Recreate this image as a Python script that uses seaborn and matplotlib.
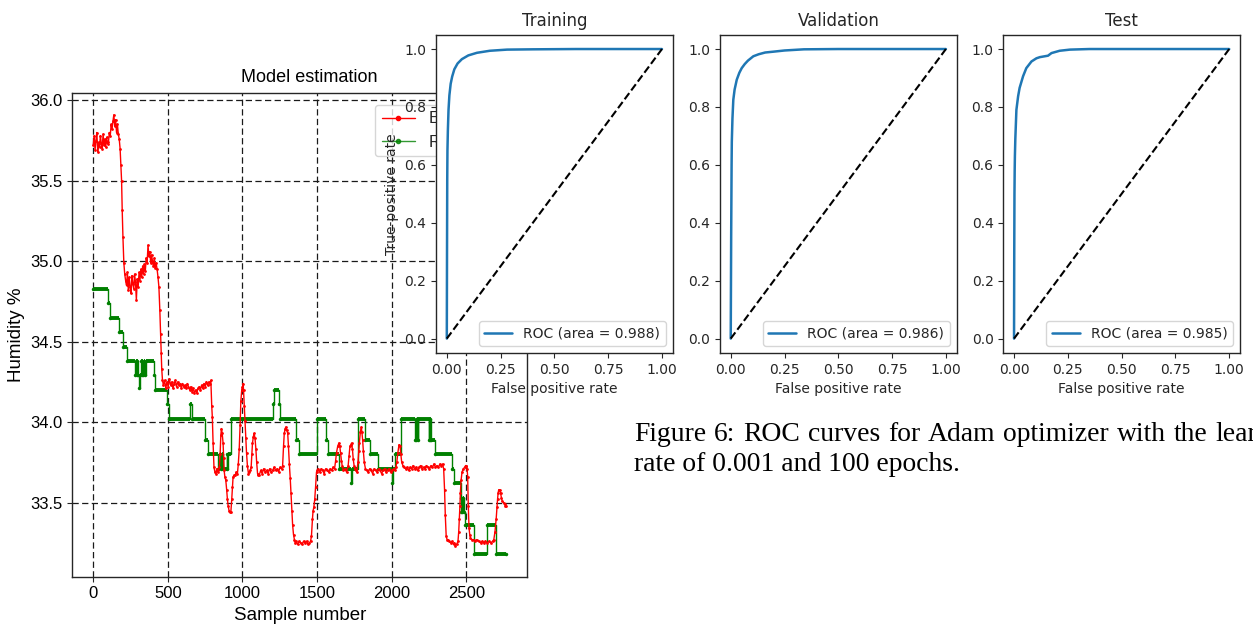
import numpy as np
import pandas as pd
import matplotlib
matplotlib.use("Agg")
import matplotlib.pyplot as plt
from matplotlib.lines import Line2D
import seaborn as sns

# ---------------- data: model estimation (humidity) ----------------
red_x_a = [0, 6, 12, 18, 24, 30, 36, 42, 48, 54,
           60, 66, 72, 78, 84, 90, 96, 102, 108, 114,
           120, 126, 132, 138, 144, 150, 156, 162, 168, 174,
           180, 185, 190, 194, 199, 205, 211, 217, 223, 229,
           235, 241, 247, 253, 259, 265, 271, 277, 283, 289,
           295, 301, 307, 313, 319, 325, 331, 337, 343, 349,
           355, 361, 367, 373, 379, 385, 391, 397, 403, 409,
           415, 421, 428, 434, 440, 446, 451, 455, 459, 464]
red_y_a = [35.72, 35.78, 35.69, 35.75, 35.80, 35.68, 35.74, 35.71, 35.78, 35.73,
           35.70, 35.79, 35.72, 35.76, 35.71, 35.77, 35.73, 35.74, 35.80, 35.78,
           35.85, 35.82, 35.87, 35.91, 35.84, 35.88, 35.80, 35.85, 35.79, 35.76,
           35.70, 35.60, 35.50, 35.32, 35.15, 34.99, 34.92, 34.88, 34.85, 34.93,
           34.82, 34.90, 34.84, 34.80, 34.91, 34.86, 34.83, 34.92, 34.87, 34.76,
           34.89, 34.84, 34.93, 34.88, 34.95, 34.90, 34.97, 34.92, 34.98, 34.94,
           35.02, 34.99, 35.10, 35.03, 35.06, 34.99, 35.04, 35.00, 34.97, 35.02,
           34.96, 34.99, 34.95, 34.90, 34.84, 34.70, 34.55, 34.43, 34.33, 34.26]

red_x_b = [470, 478, 486, 494, 502, 510, 518, 526, 534, 542,
           550, 558, 566, 574, 582, 590, 598, 606, 614, 622,
           630, 638, 646, 654, 662, 670, 678, 686, 694, 702,
           710, 718, 726, 734, 742, 750, 758, 766, 774, 782,
           788, 794, 798, 803, 809, 815, 821, 827, 833, 839,
           845, 850, 855, 859, 864, 870, 874, 877, 882, 888,
           894, 899, 904, 910, 916, 922, 928, 933, 937, 944,
           951, 958, 966, 972, 978, 984, 989, 995, 1000, 1004,
           1007, 1012, 1016, 1022, 1027, 1033, 1040, 1046, 1052, 1058,
           1063, 1067, 1073, 1078, 1084, 1090, 1095, 1101, 1107, 1112]
red_y_b = [34.23, 34.26, 34.21, 34.25, 34.22, 34.27, 34.23, 34.25, 34.21, 34.24,
           34.26, 34.22, 34.25, 34.23, 34.24, 34.21, 34.24, 34.22, 34.23, 34.21,
           34.24, 34.22, 34.20, 34.22, 34.19, 34.21, 34.18, 34.20, 34.18, 34.21,
           34.22, 34.20, 34.23, 34.21, 34.24, 34.22, 34.25, 34.23, 34.25, 34.24,
           34.26, 34.10, 34.03, 33.87, 33.72, 33.69, 33.68, 33.71, 33.69, 33.70,
           33.72, 33.80, 33.92, 33.96, 33.93, 33.87, 33.78, 33.70, 33.66, 33.64,
           33.58, 33.52, 33.48, 33.45, 33.44, 33.44, 33.52, 33.60, 33.66, 33.67,
           33.67, 33.69, 33.68, 33.74, 33.83, 33.98, 34.13, 34.20, 34.22, 34.24,
           34.20, 34.10, 34.01, 33.90, 33.81, 33.73, 33.68, 33.69, 33.70, 33.72,
           33.80, 33.87, 33.91, 33.93, 33.90, 33.83, 33.75, 33.68, 33.67, 33.67]

red_x_c = [1122, 1132, 1142, 1152, 1162, 1172, 1182, 1192, 1202, 1212,
           1222, 1232, 1242, 1252, 1262, 1269, 1275, 1280, 1286, 1291,
           1297, 1303, 1308, 1314, 1320, 1325, 1331, 1336, 1342, 1348,
           1354, 1359, 1369, 1379, 1389, 1399, 1409, 1419, 1429, 1439,
           1449, 1456, 1462, 1469, 1473, 1478, 1484, 1490, 1496, 1502,
           1507, 1517, 1527, 1537, 1547, 1557, 1567, 1577, 1587, 1597,
           1607, 1617, 1624, 1630, 1638, 1646, 1652, 1657, 1663, 1668,
           1676, 1686, 1697, 1708, 1714, 1720, 1726, 1731, 1737, 1742,
           1748, 1753, 1759, 1765, 1774, 1779, 1783, 1790, 1796, 1800,
           1805, 1810, 1816, 1824, 1832]
red_y_c = [33.70, 33.68, 33.71, 33.69, 33.70, 33.68, 33.71, 33.69, 33.70, 33.72,
           33.70, 33.71, 33.69, 33.72, 33.71, 33.73, 33.85, 33.93, 33.96, 33.97,
           33.95, 33.93, 33.85, 33.74, 33.65, 33.56, 33.45, 33.36, 33.30, 33.27,
           33.25, 33.26, 33.24, 33.26, 33.25, 33.24, 33.26, 33.25, 33.26, 33.24,
           33.25, 33.26, 33.29, 33.40, 33.45, 33.47, 33.52, 33.60, 33.69, 33.70,
           33.71, 33.69, 33.71, 33.70, 33.68, 33.71, 33.70, 33.69, 33.71, 33.70,
           33.72, 33.71, 33.76, 33.81, 33.85, 33.87, 33.85, 33.81, 33.76, 33.73,
           33.70, 33.71, 33.69, 33.73, 33.79, 33.85, 33.86, 33.87, 33.83, 33.77,
           33.73, 33.71, 33.70, 33.69, 33.75, 33.82, 33.87, 33.94, 33.97, 33.94,
           33.89, 33.82, 33.75, 33.71, 33.70]

red_x_d = [1842, 1852, 1862, 1872, 1882, 1892, 1902, 1912, 1922, 1932,
           1942, 1952, 1962, 1972, 1982, 1992, 2002, 2012, 2022, 2028,
           2034, 2041, 2049, 2056, 2061, 2067, 2075, 2083, 2093, 2103,
           2113, 2123, 2133, 2143, 2153, 2163, 2173, 2183, 2193, 2203,
           2213, 2223, 2233, 2243, 2253, 2263, 2273, 2283, 2293, 2303,
           2313, 2323, 2333, 2341, 2348, 2354, 2359, 2365, 2371, 2377,
           2385, 2395, 2404, 2414, 2420, 2426, 2435, 2444, 2449, 2453,
           2457, 2460, 2465, 2471, 2480, 2489, 2495, 2500, 2505, 2509,
           2513, 2518, 2523, 2527, 2537, 2549, 2559, 2569, 2583, 2595,
           2607, 2618, 2628, 2640, 2652, 2664, 2676, 2684, 2692, 2700,
           2705, 2709, 2713, 2717, 2723, 2729, 2735, 2740, 2750, 2756,
           2762, 2766]
red_y_d = [33.69, 33.71, 33.70, 33.68, 33.71, 33.70, 33.69, 33.71, 33.70, 33.68,
           33.70, 33.71, 33.69, 33.70, 33.71, 33.69, 33.70, 33.71, 33.70, 33.72,
           33.75, 33.81, 33.86, 33.85, 33.80, 33.75, 33.73, 33.72, 33.71, 33.72,
           33.70, 33.72, 33.71, 33.73, 33.71, 33.72, 33.70, 33.72, 33.73, 33.71,
           33.72, 33.71, 33.73, 33.72, 33.71, 33.73, 33.72, 33.74, 33.72, 33.73,
           33.72, 33.74, 33.73, 33.74, 33.71, 33.58, 33.42, 33.29, 33.27, 33.27,
           33.26, 33.25, 33.26, 33.24, 33.25, 33.23, 33.24, 33.26, 33.32, 33.40,
           33.48, 33.56, 33.64, 33.69, 33.71, 33.72, 33.73, 33.73, 33.71, 33.66,
           33.48, 33.34, 33.30, 33.28, 33.27, 33.27, 33.26, 33.27, 33.26, 33.25,
           33.26, 33.25, 33.26, 33.25, 33.26, 33.25, 33.26, 33.27, 33.32, 33.40,
           33.47, 33.52, 33.56, 33.58, 33.58, 33.56, 33.53, 33.51, 33.50, 33.49,
           33.48, 33.48]

# real (reference) humidity: step change points
green_x = [0, 100, 109, 172, 199, 223, 279, 285, 290, 296,
           302, 308, 312, 318, 324, 330, 336, 342, 348, 355,
           406, 417, 496, 507, 650, 665, 750, 770, 839, 852,
           856, 865, 870, 895, 899, 906, 926, 1206, 1212, 1243,
           1249, 1359, 1381, 1500, 1558, 1574, 1648, 1729, 1733, 1776,
           1821, 1854, 1910, 2005, 2009, 2022, 2060, 2157, 2161, 2165,
           2169, 2173, 2177, 2247, 2251, 2255, 2259, 2263, 2287, 2404,
           2419, 2462, 2466, 2470, 2474, 2478, 2482, 2493, 2554, 2639,
           2700, 2766]
green_y = [34.83, 34.74, 34.65, 34.56, 34.47, 34.38, 34.29, 34.38, 34.29, 34.38,
           34.29, 34.21, 34.29, 34.38, 34.29, 34.38, 34.29, 34.38, 34.29, 34.38,
           34.29, 34.20, 34.11, 34.02, 34.11, 34.02, 33.89, 33.80, 33.71, 33.80,
           33.71, 33.80, 33.71, 33.80, 33.71, 33.80, 34.02, 34.11, 34.20, 34.11,
           34.02, 33.89, 33.80, 34.02, 33.89, 33.80, 33.71, 33.62, 33.71, 34.02,
           33.89, 33.80, 33.71, 33.62, 33.71, 33.80, 34.02, 33.89, 34.02, 33.89,
           34.02, 33.89, 34.02, 33.89, 34.02, 33.89, 34.02, 33.89, 33.80, 33.71,
           33.62, 33.53, 33.44, 33.53, 33.44, 33.53, 33.44, 33.36, 33.18, 33.36,
           33.18, 33.18]

hum_xticks = [0, 500, 1000, 1500, 2000, 2500]
hum_yticks = [33.5, 34.0, 34.5, 35.0, 35.5, 36.0]

# ---------------- data: ROC curves ----------------
roc_titles = ["Training", "Validation", "Test"]
roc_auc = [0.988, 0.986, 0.985]
fpr_train = [0, 0.001, 0.002, 0.003, 0.005, 0.008, 0.012, 0.018, 0.025, 0.035,
             0.05, 0.07, 0.1, 0.14, 0.2, 0.28, 0.4, 0.6, 0.8, 1.0]
tpr_train = [0, 0.30, 0.55, 0.65, 0.72, 0.79, 0.84, 0.88, 0.905, 0.93,
             0.95, 0.965, 0.978, 0.987, 0.994, 0.998, 0.999, 1.0, 1.0, 1.0]
fpr_val = [0, 0.002, 0.004, 0.005, 0.008, 0.012, 0.018, 0.028, 0.04, 0.051,
           0.065, 0.08, 0.105, 0.13, 0.16, 0.2, 0.25, 0.34, 0.5, 1.0]
tpr_val = [0, 0.35, 0.60, 0.68, 0.76, 0.825, 0.86, 0.894, 0.918, 0.934,
           0.948, 0.96, 0.975, 0.982, 0.988, 0.991, 0.995, 0.999, 1.0, 1.0]
fpr_test = [0, 0.001, 0.002, 0.003, 0.004, 0.006, 0.011, 0.019, 0.026, 0.042,
            0.057, 0.081, 0.104, 0.12, 0.135, 0.158, 0.174, 0.212, 0.26, 0.35, 1.0]
tpr_test = [0, 0.30, 0.50, 0.58, 0.63, 0.69, 0.79, 0.837, 0.866, 0.906,
            0.934, 0.957, 0.968, 0.972, 0.974, 0.977, 0.986, 0.994, 0.998, 1.0, 1.0]
chance = [0.0, 1.0]
roc_ticks = [0.0, 0.25, 0.5, 0.75, 1.0]
roc_yticks = [0.0, 0.2, 0.4, 0.6, 0.8, 1.0]

caption_1 = "Figure 6: ROC curves for Adam optimizer with the lear"
caption_2 = "rate of 0.001 and 100 epochs."

# ---------------- style ----------------
sns.set_style("ticks")
plt.rcParams["font.family"] = ["DejaVu Sans"]
plt.rcParams["axes.linewidth"] = 1.0
plt.rcParams["axes.edgecolor"] = "0.15"
plt.rcParams["xtick.major.size"] = 3.5
plt.rcParams["ytick.major.size"] = 3.5

fig = plt.figure(figsize=(12.53, 6.26), dpi=100)
fig.patch.set_facecolor("white")

# ---------------- left: model estimation ----------------
SANS = "Liberation Sans"
ax0 = fig.add_axes([0.0575, 0.0789, 0.3634, 0.7724])
red_x = red_x_a + red_x_b + red_x_c + red_x_d
red_y = red_y_a + red_y_b + red_y_c + red_y_d
est = pd.DataFrame({"sample": red_x, "humidity": red_y})
real = pd.DataFrame({"sample": green_x, "humidity": green_y})

ax0.grid(True, color="0.1", linestyle=(0, (5, 2.7)), linewidth=0.9)
ax0.set_axisbelow(True)

sns.lineplot(data=est, x="sample", y="humidity", ax=ax0, color="red",
             linewidth=1.0, marker=".", markersize=4, markeredgewidth=0,
             estimator=None, sort=False, legend=False, zorder=3)
sns.lineplot(data=real, x="sample", y="humidity", ax=ax0, color="green",
             linewidth=1.0, drawstyle="steps-post", marker=".", markersize=5,
             markeredgewidth=0, estimator=None, sort=False, legend=False, zorder=2)
ax0.hlines(real["humidity"].iloc[:-1], real["sample"].iloc[:-1], real["sample"].iloc[1:],
           colors="green", linewidth=2.8, zorder=2)

ax0.set_xlim(-142, 2909)
ax0.set_ylim(33.04, 36.045)
ax0.set_xticks(hum_xticks)
ax0.set_xticklabels([str(t) for t in hum_xticks], fontfamily=SANS, fontsize=12, color="black")
ax0.set_yticks(hum_yticks)
ax0.set_yticklabels([f"{t:.1f}" for t in hum_yticks], fontfamily=SANS, fontsize=12, color="black")
ax0.set_xlabel("Sample number", fontfamily=SANS, fontsize=13.5, color="black")
ax0.set_ylabel("Humidity %", fontfamily=SANS, fontsize=13.5, color="black")
ax0.set_title("Model estimation", fontfamily=SANS, fontsize=13, color="black", x=0.52, pad=8)
handles = [Line2D([], [], color="red", lw=1.0, marker=".", markersize=6),
           Line2D([], [], color="green", lw=1.0, marker=".", markersize=6, alpha=0.8)]
ax0.legend(handles, ["Estimated", "Real"], loc="upper left",
           bbox_to_anchor=(0.665, 0.976), borderaxespad=0.0,
           prop={"family": SANS, "size": 12})

# ---------------- right: ROC panels ----------------
roc_lefts = [0.348, 0.5746, 0.8007]
roc_data = [(fpr_train, tpr_train), (fpr_val, tpr_val), (fpr_test, tpr_test)]
for i, (left, (fpr, tpr)) in enumerate(zip(roc_lefts, roc_data)):
    ax = fig.add_axes([left, 0.436, 0.1889, 0.5088])
    ax.set_facecolor("white")
    ax.patch.set_alpha(1.0)
    sns.lineplot(x=fpr, y=tpr, ax=ax, color="#1f77b4", linewidth=1.8,
                 estimator=None, sort=False,
                 label=f"ROC (area = {roc_auc[i]:.3f})")
    ax.plot(chance, chance, color="black", linestyle="--", linewidth=1.5)
    ax.set_xlim(-0.05, 1.05)
    ax.set_ylim(-0.05, 1.05)
    ax.set_xticks(roc_ticks)
    ax.set_yticks(roc_yticks)
    ax.tick_params(labelsize=10)
    ax.set_title(roc_titles[i], fontsize=12)
    ax.set_xlabel("False positive rate", fontsize=10)
    if i == 0:
        ax.set_ylabel("True-positive rate", fontsize=10)
    else:
        ax.set_ylabel("")
    ax.legend(loc="lower right", fontsize=10)

# ---------------- caption (first line justified, runs off the page as in the reference) ----------------
SERIF = "Liberation Serif"
cap_fs = 19.9
x0_px = 634.0
W = fig.bbox.width
renderer = fig.canvas.get_renderer()
words = caption_1.split(" ")
probe = [fig.text(0, 0, w, fontfamily=SERIF, fontsize=cap_fs) for w in words]
widths = [t.get_window_extent(renderer).width for t in probe]
for t in probe:
    t.remove()
target_end = 1257.0
gap = (target_end - x0_px - sum(widths)) / (len(words) - 1)
x = x0_px
for w, wd in zip(words, widths):
    fig.text(x / W, 0.2955, w, fontfamily=SERIF, fontsize=cap_fs,
             color="black", va="baseline", ha="left")
    x += wd + gap
fig.text(x0_px / W, 0.2476, caption_2, fontfamily=SERIF,
         fontsize=cap_fs, color="black", va="baseline", ha="left")

fig.savefig("out.png", dpi=100, facecolor="white")
